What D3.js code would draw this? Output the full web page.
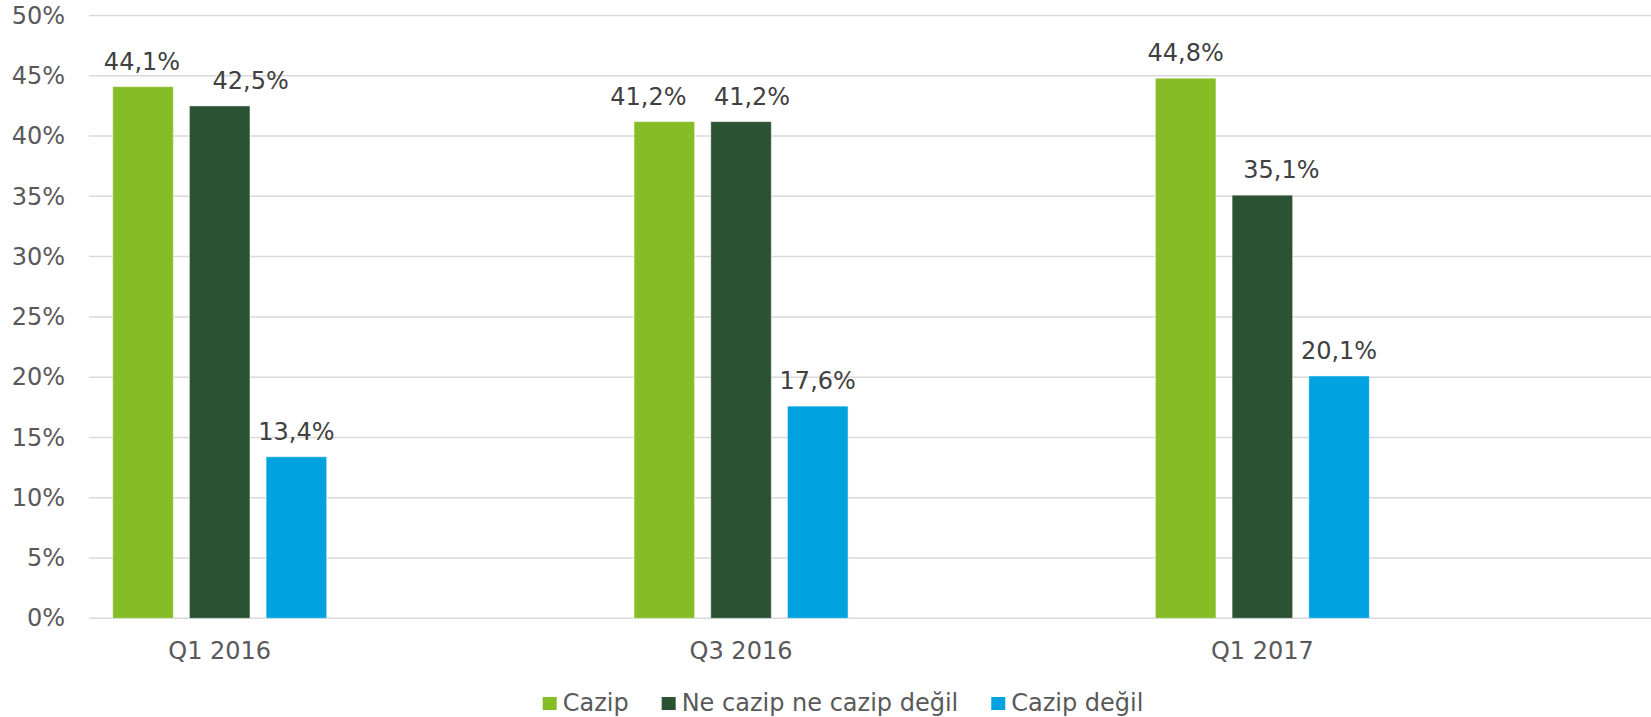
<!DOCTYPE html>
<html>
<head>
<meta charset="utf-8">
<script src="https://cdn.jsdelivr.net/npm/d3@7"></script>
<style>
  body { margin: 0; background: #fff; }
  svg { display: block; font-family: "DejaVu Sans", Verdana, sans-serif; }
</style>
</head>
<body>
<div id="chart"></div>
<script>
// categories and series
const categories = ["Q1 2016", "Q3 2016", "Q1 2017"];
const seriesNames = ["Cazip", "Ne cazip ne cazip değil", "Cazip değil"];
const cazip = [44.1, 41.2, 44.8];
const neCazip = [42.5, 41.2, 35.1];
const cazipDegil = [13.4, 17.6, 20.1];
const yTicks = [0, 5, 10, 15, 20, 25, 30, 35, 40, 45, 50];

const colors = ["#86bc25", "#2c5234", "#00a3e0"];
const allSeries = [cazip, neCazip, cazipDegil];

// some data labels were moved sideways by hand in the original (px, per series / category)
const labelNudge = [[-1, -16, 0], [31, 11, 19], [0, 0, 0]];

const width = 1651;
const height = 717;

const svg = d3.select("#chart")
    .append("svg")
    .attr("width", width)
    .attr("height", height);

// scales
const x0 = d3.scaleBand()
    .domain(categories)
    .range([89, 1653]);

const x1 = d3.scaleBand()
    .domain(seriesNames)
    .range([23.7, 23.7 + 214])
    .paddingInner(0.21);

const y = d3.scaleLinear()
    .domain([0, 50])
    .range([618.3, 15.5]);

// gridlines
svg.append("g")
    .selectAll("line")
    .data(yTicks)
    .enter().append("line")
    .attr("x1", 89)
    .attr("x2", width)
    .attr("y1", (d) => y(d))
    .attr("y2", (d) => y(d))
    .attr("stroke", "#d9d9d9")
    .attr("stroke-width", 1.5);

// y axis labels
const yAxis = svg.append("g")
    .attr("transform", "translate(89,0)")
    .call(d3.axisLeft(y).tickValues(yTicks).tickSize(0).tickPadding(24).tickFormat((d) => `${d}%`));
yAxis.select(".domain").remove();
yAxis.selectAll("text")
    .attr("fill", "#595959")
    .style("font-size", "24px")
    .style("font-family", "DejaVu Sans, Verdana, sans-serif");

// bars
const groups = svg.selectAll(".group")
    .data(categories)
    .enter().append("g")
    .attr("class", "group")
    .attr("transform", (d) => `translate(${x0(d)},0)`);

groups.each(function (cat, ci) {
    const g = d3.select(this);
    seriesNames.forEach((name, si) => {
        const v = allSeries[si][ci];
        g.append("rect")
            .attr("x", x1(name))
            .attr("y", y(v))
            .attr("width", x1.bandwidth())
            .attr("height", y(0) - y(v))
            .attr("fill", colors[si])
            .attr("stroke", "rgba(255,255,255,0.5)")
            .attr("stroke-width", 1);

        g.append("text")
            .attr("x", x1(name) + x1.bandwidth() / 2 + labelNudge[si][ci])
            .attr("y", y(v) - 17)
            .attr("text-anchor", "middle")
            .attr("fill", "#404040")
            .style("font-size", "24px")
            .text(`${v.toFixed(1).replace(".", ",")}%`);
    });

    // category label under the middle bar
    g.append("text")
        .attr("x", x1(seriesNames[1]) + x1.bandwidth() / 2)
        .attr("y", 659.3)
        .attr("text-anchor", "middle")
        .attr("fill", "#595959")
        .style("font-size", "24px")
        .text(cat);
});

// legend
const legend = svg.append("g");
let lx = 542.7;
seriesNames.forEach((name, i) => {
    legend.append("rect")
        .attr("x", lx)
        .attr("y", 697)
        .attr("width", 14)
        .attr("height", 13)
        .attr("fill", colors[i]);
    const t = legend.append("text")
        .attr("x", lx + 20)
        .attr("y", 711)
        .attr("fill", "#595959")
        .style("font-size", "24px")
        .text(name);
    lx += 20 + t.node().getComputedTextLength() + 33;
});
</script>
</body>
</html>
